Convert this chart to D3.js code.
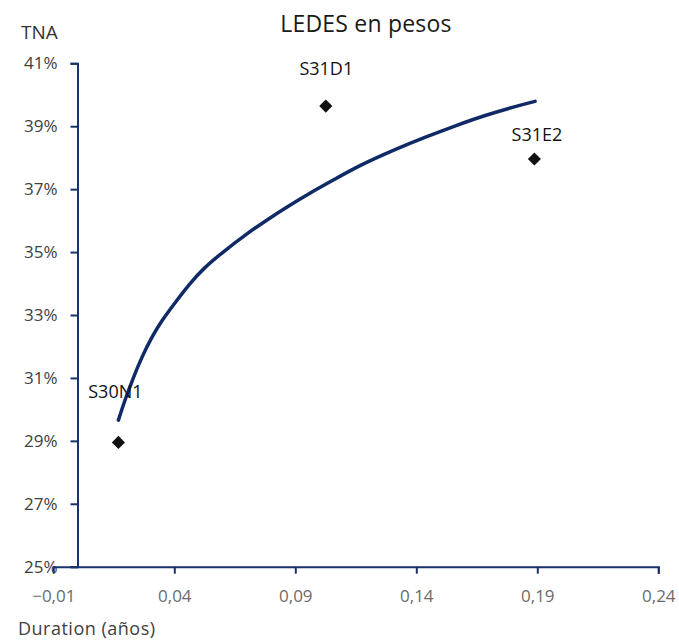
<!DOCTYPE html>
<html><head><meta charset="utf-8">
<script src="https://cdn.jsdelivr.net/npm/d3@7"></script>
<style>body{margin:0;background:#fff}svg{display:block}</style>
</head><body><svg id="c" width="679" height="641"></svg>
<script>
const bondNames = ["S30N1","S31D1","S31E2"];
const bondDuration = [0.0169, 0.1026, 0.1888];
const bondTNA = [28.95, 39.64, 37.96];
const curveDuration = [0.0169,0.0196,0.0231,0.0265,0.0307,0.0348,0.0396,0.0465,0.0520,0.0602,0.0692,0.0782,0.0871,0.0961,0.1057,0.1167,0.1305,0.1443,0.1567,0.1677,0.1815,0.1891];
const curveTNA = [29.66,30.30,31.02,31.65,32.30,32.82,33.32,34.01,34.48,35.01,35.54,36.02,36.46,36.88,37.29,37.76,38.24,38.67,39.03,39.33,39.64,39.79];
const xTicks = [-0.01,0.04,0.09,0.14,0.19,0.24];
const yTicks = [25,27,29,31,33,35,37,39,41];

const svg = d3.select("#c");
const x = d3.scaleLinear().domain([-0.01,0.24]).range([53.3,658.3]);
const y = d3.scaleLinear().domain([25,41]).range([566.7,63.3]);
const axisColor = "#1a3170";
const font = "'Open Sans', 'Noto Sans', sans-serif";

// title
svg.append("text").attr("x",366).attr("y",32).attr("text-anchor","middle")
  .attr("font-family",font).attr("font-size",23).attr("letter-spacing",0.2).attr("fill","#1a1a1a").text("LEDES en pesos");
svg.append("text").attr("x",21).attr("y",39)
  .attr("font-family",font).attr("font-size",19).attr("fill","#333").text("TNA");
svg.append("text").attr("x",18).attr("y",635)
  .attr("font-family",font).attr("font-size",18).attr("letter-spacing",0.5).attr("fill","#404040").text("Duration (años)");

// y axis at x=0
const yAxis = d3.axisLeft(y).tickValues(yTicks).tickSize(7).tickPadding(13)
  .tickFormat(d => d + "%");
const gy = svg.append("g").attr("transform",`translate(${x(0)},0)`).call(yAxis);
gy.select(".domain").attr("stroke",axisColor).attr("stroke-width",2);
gy.selectAll(".tick line").attr("stroke",axisColor).attr("stroke-width",2);
gy.selectAll(".tick text").attr("font-family",font).attr("font-size",17).attr("fill","#404040");

// x axis at y=25
const xAxis = d3.axisBottom(x).tickValues(xTicks).tickSize(7).tickPadding(16)
  .tickFormat(d => d3.format(".2f")(d).replace(".",","));
const gx = svg.append("g").attr("transform",`translate(0,${y(25)})`).call(xAxis);
gx.select(".domain").attr("stroke",axisColor).attr("stroke-width",2);
gx.selectAll(".tick line").attr("stroke",axisColor).attr("stroke-width",2);
gx.selectAll(".tick text").attr("font-family",font).attr("font-size",17).attr("fill","#6b6b6b");
gx.selectAll(".tick").filter(d => d === -0.01).select("line").remove();

// curve
const curveData = curveDuration.map((d,i)=>({x:d,y:curveTNA[i]}));
svg.append("path").datum(curveData)
  .attr("d", d3.line().x(d=>x(d.x)).y(d=>y(d.y)).curve(d3.curveBasis))
  .attr("fill","none").attr("stroke","#0f2a66").attr("stroke-width",3.5).attr("stroke-linecap","round");

// bonds
const bonds = bondNames.map((n,i)=>({name:n,x:bondDuration[i],y:bondTNA[i]}));
svg.selectAll("path.pt").data(bonds).enter().append("path").attr("class","pt")
  .attr("d", d3.symbol(d3.symbolSquare, 86)())
  .attr("transform", d => `translate(${x(d.x)},${y(d.y)}) rotate(45)`)
  .attr("fill","#111");
const lblOff = {S30N1:[-3,44.6], S31D1:[0.5,31], S31E2:[2.5,17.5]};
svg.selectAll("text.lbl").data(bonds).enter().append("text").attr("class","lbl")
  .attr("x", d => x(d.x) + lblOff[d.name][0])
  .attr("y", d => y(d.y) - lblOff[d.name][1])
  .attr("text-anchor","middle").attr("font-family",font).attr("font-size",18).attr("fill","#111")
  .text(d => d.name);
</script></body></html>
